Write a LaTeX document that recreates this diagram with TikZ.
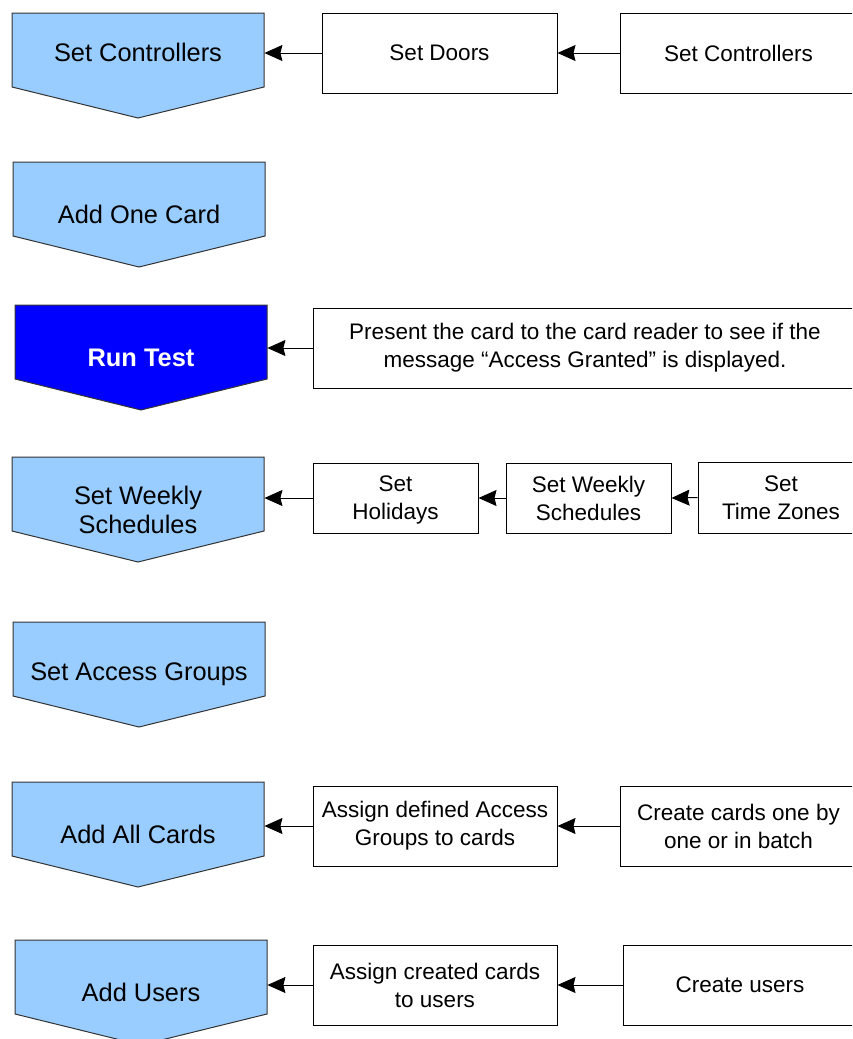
\documentclass[tikz,border=0pt]{standalone}
\usepackage[RGB]{xcolor}
\usepackage{fontspec}
\setmainfont{Liberation Sans}
\usetikzlibrary{arrows.meta}
\definecolor{stepblue}{RGB}{153,204,255}
\definecolor{testblue}{RGB}{0,0,255}
\tikzset{
  stage/.style={minimum width=126pt, minimum height=52.5pt, inner sep=0pt, align=center,
    font=\fontsize{12.7}{14.5}\selectfont},
  taskbox/.style={draw, line width=0.5pt, minimum height=40pt, inner sep=0pt, align=center,
    font=\fontsize{11.25}{14}\selectfont},
  feed/.style={-{Stealth[length=9pt,width=8pt,inset=1pt]}, line width=0.5pt},
}
\newcommand{\stage}[6][]{
  \filldraw[fill=#5, draw=black!80, line width=0.5pt] (#3,#4) --++(252,0) --++(0,74) --++(-126,31) --++(-126,-31) --cycle;
  \node[stage,#1] (#2) at (#3+126,#4+52.5) {#6};
}

\begin{document}
\begin{tikzpicture}[x=0.5pt,y=-0.5pt]
\clip (0,0) rectangle (852,1039);
% steps down the left side
\stage[text depth=13.5pt]{setctrl}{12}{13}{stepblue}{Set Controllers}
\stage{addone}{13}{162}{stepblue}{Add One Card}
\stage[text=white,font=\fontsize{12.7}{14.5}\selectfont\bfseries]{runtest}{15}{305}{testblue}{Run Test}
\stage{weekly}{12}{457}{stepblue}{Set Weekly\\Schedules}
\stage{groups}{13}{622}{stepblue}{Set Access Groups}
\stage{addall}{12}{782}{stepblue}{Add All Cards}
\stage{users}{15}{940}{stepblue}{Add Users}
% row 1
\node[taskbox, minimum width=117.5pt] (doors) at (439.5,53) {Set Doors};
\node[taskbox, minimum width=118.5pt] (ctrl) at (738.5,53) {Set Controllers};
\draw[feed] (ctrl.west) -- (doors.east);
\draw[feed] (doors.west) -- (doors.west -| setctrl.east);
% row 3
\node[taskbox, minimum width=272pt] (present) at (585,348) {Present the card to the card reader to see if the\\message “Access Granted” is displayed.};
\draw[feed] (present.west) -- (present.west -| runtest.east);
% row 4
\node[taskbox, minimum width=82.5pt, minimum height=35pt, text depth=0pt] (holidays) at (395.5,498) {Set\\Holidays};
\node[taskbox, minimum width=82.5pt, minimum height=35pt] (wsched) at (588.5,498) {Set Weekly\\Schedules};
\node[taskbox, minimum width=83pt, minimum height=35.5pt] (zones) at (781,497.5) {Set\\Time Zones};
\draw[feed] (zones.west) -- (wsched.east);
\draw[feed] (wsched.west) -- (holidays.east);
\draw[feed] (holidays.west) -- (holidays.west -| weekly.east);
% row 6
\node[taskbox, minimum width=122pt] (assigngrp) at (435,826) {Assign defined Access\\Groups to cards};
\node[taskbox, minimum width=118.5pt] (cards) at (738.5,826) {Create cards one by\\one or in batch};
\draw[feed] (cards.west) -- (assigngrp.east);
\draw[feed] (assigngrp.west) -- (assigngrp.west -| addall.east);
% row 7
\node[taskbox, minimum width=122pt] (assigncard) at (435,985) {Assign created cards\\to users};
\node[taskbox, minimum width=117pt] (create) at (740,985) {Create users};
\draw[feed] (create.west) -- (assigncard.east);
\draw[feed] (assigncard.west) -- (assigncard.west -| users.east);
\end{tikzpicture}
\end{document}
